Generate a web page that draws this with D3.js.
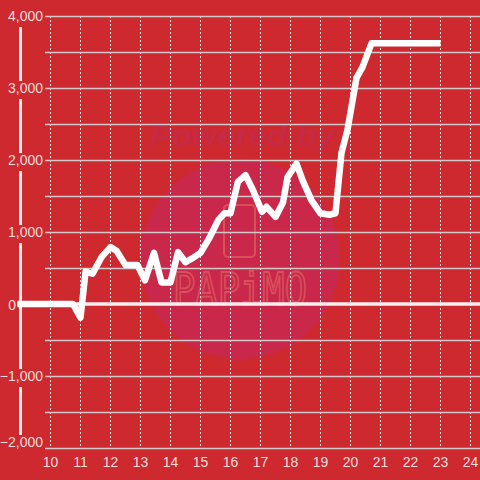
<!DOCTYPE html>
<html><head><meta charset="utf-8">
<script src="https://cdn.jsdelivr.net/npm/d3@7"></script>
<style>html,body{margin:0;padding:0;background:#cd292f;}svg{display:block;}</style>
</head><body>
<svg id="c" width="480" height="480"></svg>
<script>
const xs = [8.9,10.75,11.0,11.17,11.4,11.7,12.0,12.2,12.5,12.9,13.15,13.45,13.7,14.0,14.25,14.5,14.75,15.0,15.3,15.6,15.8,16.0,16.25,16.5,16.75,17.05,17.2,17.5,17.75,17.9,18.2,18.4,18.7,19.0,19.3,19.5,19.7,19.9,20.2,20.4,20.7,23.0];
const vals = [0,0,-190,450,420,650,790,740,540,540,330,710,300,300,720,580,640,710,920,1170,1260,1260,1700,1790,1580,1280,1350,1210,1410,1760,1950,1720,1440,1260,1240,1260,2100,2420,3140,3290,3620,3620];
const xTicks = [10,11,12,13,14,15,16,17,18,19,20,21,22,23,24];
const yTicks = [-2000,-1000,0,1000,2000,3000,4000];
const yGrid = [-2000,-1500,-1000,-500,0,500,1000,1500,2000,2500,3000,3500,4000];

const svg = d3.select("#c");
const x = d3.scaleLinear().domain([10,24]).range([50.5,470.5]);
const y = d3.scaleLinear().domain([-2000,4000]).range([448,16]);

// watermark
const wm = svg.append("g");
wm.append("circle").attr("cx",240).attr("cy",259).attr("r",100).attr("fill","#c9284a");
wm.append("text").attr("x",150).attr("y",146)
  .attr("font-family","Liberation Sans, Arial, sans-serif").attr("font-weight","bold").attr("font-style","italic")
  .attr("font-size",30).attr("fill","#c62a44").attr("textLength",185).attr("lengthAdjust","spacingAndGlyphs").text("Powered by");
wm.append("rect").attr("x",224).attr("y",205).attr("width",31).attr("height",52).attr("rx",4)
  .attr("fill","none").attr("stroke","#d8505c").attr("stroke-width",2);
wm.append("text").attr("x",173).attr("y",305)
  .attr("font-family","DejaVu Sans Mono, monospace").attr("font-size",44).attr("fill","none")
  .attr("stroke","#d8505c").attr("stroke-width",1.8).attr("textLength",134).attr("lengthAdjust","spacingAndGlyphs").text("PAPiMO");

// grid
svg.append("g").selectAll("line").data(xTicks).join("line")
  .attr("x1",d=>x(d)).attr("x2",d=>x(d)).attr("y1",16).attr("y2",448)
  .attr("stroke","#f0e6e6").attr("stroke-width",1).attr("stroke-dasharray","2,2");
svg.append("g").selectAll("line").data(yGrid.filter(d=>d!==0)).join("line")
  .attr("x1",45).attr("x2",480).attr("y1",d=>y(d)+0.5).attr("y2",d=>y(d)+0.5)
  .attr("stroke","#cfc9c9").attr("stroke-width",1.5);

// zero line
svg.append("line").attr("x1",17).attr("x2",480).attr("y1",y(0)).attr("y2",y(0))
  .attr("stroke","#f5efef").attr("stroke-width",3.5);

// left axis line
svg.append("line").attr("x1",20.5).attr("x2",20.5).attr("y1",24).attr("y2",435)
  .attr("stroke","#f3eeee").attr("stroke-width",3);

// y labels with background
const yl = svg.append("g");
yTicks.forEach(d=>{
  const g = yl.append("g");
  const t = g.append("text").attr("x",d===0?16:43).attr("y",y(d) - (d===-2000?6:0) + (d===0?1:0)).attr("dy","0.36em").attr("text-anchor","end")
    .attr("font-family","Liberation Sans, Arial, sans-serif").attr("font-size",14).attr("fill","#f3dcdc").text(d3.format(",")(d));
  const bb = t.node().getBBox();
  g.insert("rect","text").attr("x",bb.x-1).attr("y",bb.y+1).attr("width",bb.width+2).attr("height",bb.height+2).attr("fill","#cd292f");
});

// x labels
svg.append("g").selectAll("text").data(xTicks).join("text")
  .attr("x",d=>x(d)).attr("y",467).attr("text-anchor","middle")
  .attr("font-family","Liberation Sans, Arial, sans-serif").attr("font-size",14).attr("fill","#f3dcdc").text(d=>d);

// series
const pts = xs.map((d,i)=>[d,vals[i]]);
svg.append("path").datum(pts)
  .attr("d",d3.line().x(d=>x(d[0])).y(d=>y(d[1])))
  .attr("fill","none").attr("stroke","#ffffff").attr("stroke-width",6.5).attr("stroke-linejoin","round");
</script>
</body></html>
